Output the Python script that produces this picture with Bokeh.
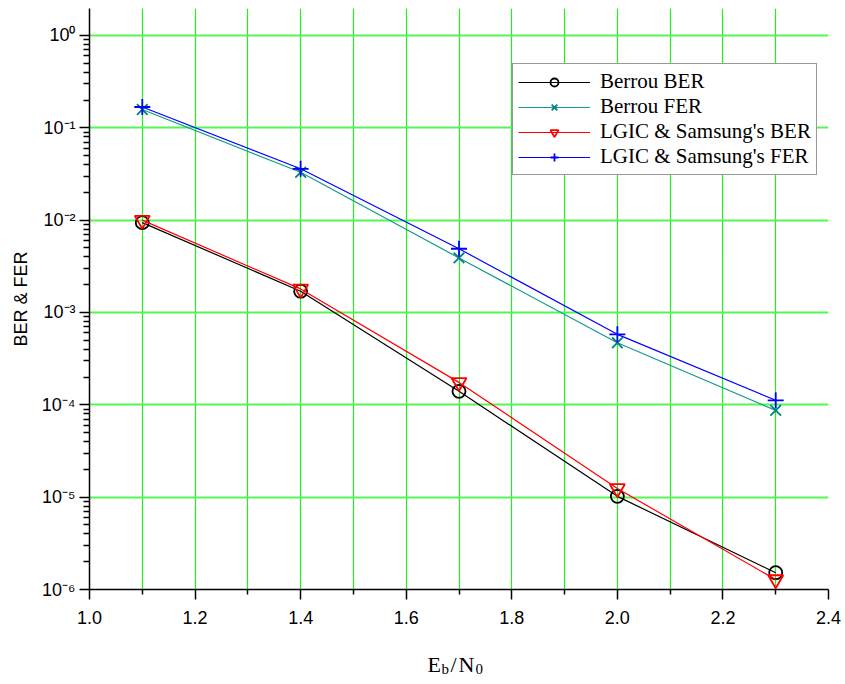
from bokeh.plotting import figure
from bokeh.layouts import column
from bokeh.models import (FixedTicker, CustomJSTickFormatter, NumeralTickFormatter,
                          Label, Legend, LegendItem, Range1d)
from bokeh.embed import file_html
from bokeh.resources import INLINE

# ---- data ----
ebn0 = [1.1, 1.4, 1.7, 2.0, 2.3]
berrou_ber = [9.4e-3, 1.7e-3, 1.4e-4, 1.02e-5, 1.52e-6]
berrou_fer = [0.158, 0.033, 3.9e-3, 4.7e-4, 8.7e-5]
lgic_ber = [1.0e-2, 1.8e-3, 1.75e-4, 1.24e-5, 1.28e-6]
lgic_fer = [0.168, 0.036, 4.9e-3, 5.8e-4, 1.12e-4]

x_major = [1.0, 1.2, 1.4, 1.6, 1.8, 2.0, 2.2, 2.4]
x_minor = [1.1, 1.3, 1.5, 1.7, 1.9, 2.1, 2.3]
y_decades = [1e-6, 1e-5, 1e-4, 1e-3, 1e-2, 1e-1, 1e0]

p = figure(width=845, height=640, y_axis_type="log",
           x_range=Range1d(1.0, 2.4), y_range=Range1d(1e-6, 1.96),
           output_backend="svg", toolbar_location=None,
           min_border_left=89, min_border_right=17, min_border_top=8, min_border_bottom=51)
p.outline_line_color = None
p.background_fill_color = "white"
p.border_fill_color = "white"

# x axis
xa = p.xaxis[0]
xa.ticker = FixedTicker(ticks=x_major, minor_ticks=x_minor)
xa.formatter = NumeralTickFormatter(format="0.0")
xa.major_tick_out = 10
xa.major_tick_in = 0
xa.minor_tick_out = 5
xa.minor_tick_in = 0
xa.axis_line_width = 1.5
xa.major_tick_line_width = 1.5
xa.minor_tick_line_width = 1.5
xa.axis_line_color = "black"
xa.major_tick_line_color = "black"
xa.minor_tick_line_color = "black"
xa.major_label_text_font = "Liberation Sans"
xa.major_label_text_font_size = "18px"
xa.major_label_text_color = "black"
xa.major_label_standoff = 11

# y axis
ya = p.yaxis[0]
ya.ticker = FixedTicker(ticks=y_decades,
                        minor_ticks=[k * d for d in y_decades[:-1] for k in range(2, 10)])
ya.formatter = CustomJSTickFormatter(code="""
const sup = {"-": "\u207b", "0": "\u2070", "1": "\u00b9", "2": "\u00b2", "3": "\u00b3",
             "4": "\u2074", "5": "\u2075", "6": "\u2076", "7": "\u2077", "8": "\u2078", "9": "\u2079"};
const e = Math.round(Math.log10(tick));
return "10" + String(e).split("").map(c => sup[c]).join("");
""")
ya.major_tick_out = 10
ya.major_tick_in = 0
ya.minor_tick_out = 6
ya.minor_tick_in = 0
ya.axis_line_width = 1.5
ya.major_tick_line_width = 1.5
ya.minor_tick_line_width = 1.5
ya.axis_line_color = "black"
ya.major_tick_line_color = "black"
ya.minor_tick_line_color = "black"
ya.major_label_text_font = "Liberation Sans"
ya.major_label_text_font_size = "18px"
ya.major_label_text_color = "black"
ya.major_label_standoff = 4
ya.axis_label = "BER & FER"
ya.axis_label_text_font = "Liberation Sans"
ya.axis_label_text_font_size = "18px"
ya.axis_label_text_font_style = "normal"
ya.axis_label_text_color = "black"
ya.axis_label_standoff = 8

# grids
p.xgrid.ticker = FixedTicker(ticks=x_major, minor_ticks=x_minor)
p.xgrid.grid_line_color = "#22ee22"
p.xgrid.grid_line_width = 1.2
p.xgrid.minor_grid_line_color = "#22ee22"
p.xgrid.minor_grid_line_width = 1.2
p.ygrid.ticker = FixedTicker(ticks=y_decades)
p.ygrid.grid_line_color = "#55f555"
p.ygrid.grid_line_width = 1.8

# series
series = [
    ("Berrou BER", berrou_ber, "black", "black", "circle", 13),
    ("Berrou FER", berrou_fer, "#139b8f", "#008080", "x", 15),
    ("LGIC & Samsung's BER", lgic_ber, "red", "red", "inverted_triangle", 15),
    ("LGIC & Samsung's FER", lgic_fer, "blue", "blue", "cross", 16),
]
items = []
for name, vals, lc, mc, marker, size in series:
    r1 = p.line(ebn0, vals, line_color=lc, line_width=1.2)
    r2 = p.scatter(ebn0, vals, marker=marker, size=size, line_color=mc,
                   fill_color=None, line_width=1.8)
    items.append(LegendItem(label=name, renderers=[r1, r2]))

legend = Legend(items=items, location=(423, 414))
legend.border_line_color = "#333333"
legend.border_line_width = 1.5
legend.background_fill_color = "white"
legend.background_fill_alpha = 1.0
legend.label_text_font = "Liberation Serif"
legend.label_text_font_size = "21px"
legend.label_text_color = "black"
legend.glyph_width = 72
legend.glyph_height = 20
legend.label_height = 20
legend.spacing = 0
legend.padding = 5
legend.margin = 0
legend.label_standoff = 10
p.add_layout(legend)

# x axis title E_b/N_0 (with subscripts) in a strip below the plot
p2 = figure(width=845, height=44, output_backend="svg", toolbar_location=None,
            x_range=Range1d(0, 739), y_range=Range1d(0, 44),
            x_axis_location=None, y_axis_location=None,
            min_border_left=89, min_border_right=17, min_border_top=0, min_border_bottom=0)
p2.outline_line_color = None
p2.xgrid.visible = False
p2.ygrid.visible = False
lab_font = "Liberation Serif"
for txt, xs, ys, fs in [("E", 338, 20, "22px"), ("b", 352, 16, "15px"),
                        ("/", 361, 20, "22px"), ("N", 369, 20, "22px"),
                        ("0", 386, 16, "15px")]:
    p2.add_layout(Label(x=xs, y=ys, x_units="screen", y_units="screen", text=txt,
                        text_font=lab_font, text_font_size=fs, text_color="black",
                        text_baseline="alphabetic", text_align="left"))

layout = column(p, p2, spacing=0)
open("out.html", "w").write(file_html(layout, INLINE))
